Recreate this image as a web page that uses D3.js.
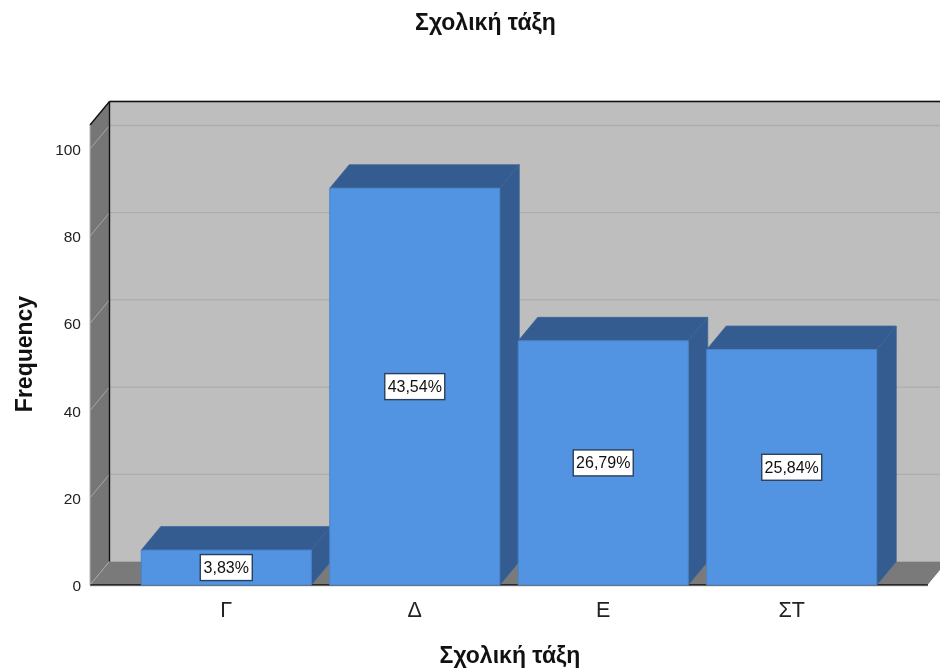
<!DOCTYPE html>
<html>
<head>
<meta charset="utf-8">
<script src="https://cdn.jsdelivr.net/npm/d3@7"></script>
<style>
html,body{margin:0;padding:0;background:#fff;overflow:hidden}
svg{display:block;filter:blur(0.45px)}
text{font-family:"Liberation Sans",Arial,sans-serif}
</style>
</head>
<body>
<svg id="chart" width="940" height="669"></svg>
<script>
const categories = ["Γ","Δ","Ε","ΣΤ"];
const frequencies = [8,91,56,54];
const percentLabels = ["3,83%","43,54%","26,79%","25,84%"];
const yTicks = [0,20,40,60,80,100];
const chartTitle = "Σχολική τάξη";
const xTitle = "Σχολική τάξη";
const yTitle = "Frequency";

const W = 940, H = 669;
const dx = 19.5, dy = -23.5;
const x = d3.scaleBand().domain(categories).range([90,928]).paddingInner(0.098).paddingOuter(0.272);
const y = d3.scaleLinear().domain([0,105.5]).range([585,125]);
const x0 = x.range()[0], x1 = x.range()[1], yb = y(0), yt = y(y.domain()[1]);
const svg = d3.select("#chart");
const poly = (pts,fill,stroke,sw) => svg.append("path")
  .attr("d","M"+pts.map(p=>p.join(",")).join("L")+"Z")
  .attr("fill",fill).attr("stroke",stroke||"none").attr("stroke-width",sw||0);
const line = (a,b,stroke,sw) => svg.append("line")
  .attr("x1",a[0]).attr("y1",a[1]).attr("x2",b[0]).attr("y2",b[1])
  .attr("stroke",stroke).attr("stroke-width",sw);

// walls and floor
poly([[x0+dx,yt+dy],[x1+dx,yt+dy],[x1+dx,yb+dy],[x0+dx,yb+dy]],"#bebebe");
poly([[x0,yt],[x0+dx,yt+dy],[x0+dx,yb+dy],[x0,yb]],"#767676");
poly([[x0,yb],[x0+dx,yb+dy],[x1+dx,yb+dy],[x1,yb]],"#7a7a7a");

// gridlines
yTicks.slice(1).concat([y.domain()[1]]).forEach(t=>{
  const p = y(t);
  line([x0+dx,p+dy],[x1+dx,p+dy],"#adadad",1.3);
  if(t<=100) line([x0,p],[x0+dx,p+dy],"#a6a6a6",1);
});
line([x0+dx,yb+dy],[x1+dx,yb+dy],"#a8a8a8",1.2);
line([x0,yb],[x0+dx,yb+dy],"#a6a6a6",1);

// frame
line([x0,yt],[x0+dx,yt+dy],"#111",1.4);
line([x0+dx,yt+dy],[x1+dx,yt+dy],"#111",1.4);
line([x0+dx,yt+dy],[x0+dx,yb+dy],"#111",1.4);
line([x0,yb],[x1,yb],"#111",1.4);
line([x0,yt],[x0,yb],"#b4b4b4",1);
line([x1,yb],[x1+dx,yb+dy],"#ffffff",1);

// bars
categories.forEach((c,i)=>{
  const l = x(c), r = l + x.bandwidth(), t = y(frequencies[i]);
  poly([[l,t],[l+dx,t+dy],[r+dx,t+dy],[r,t]],"#345c90","#3d6596",0.8);
  poly([[r,t],[r+dx,t+dy],[r+dx,yb+dy],[r,yb]],"#345c90","#3d6596",0.8);
  poly([[l,t],[r,t],[r,yb],[l,yb]],"#5294e2","#4a84cb",1);
});
line([x0,yb+1],[x1,yb+1],"#a0a0a0",0.8).attr("opacity",0.6);

// percent labels
categories.forEach((c,i)=>{
  const cx = x(c)+x.bandwidth()/2, cy = (y(frequencies[i])+yb)/2;
  const w = i===0 ? 52 : 60, h = 26;
  svg.append("rect").attr("x",cx-w/2).attr("y",cy-h/2).attr("width",w).attr("height",h)
    .attr("fill","#fff").attr("stroke","#2a3f5c").attr("stroke-width",1.4);
  svg.append("text").attr("x",cx).attr("y",cy+5.5).attr("text-anchor","middle")
    .attr("font-size",16).attr("fill","#111").text(percentLabels[i]);
});

// y axis labels
svg.append("g").selectAll("text").data(yTicks).join("text")
  .attr("x",81).attr("y",d=>y(d)+6).attr("text-anchor","end")
  .attr("font-size",15.5).attr("fill","#222").text(d=>d);

// x axis labels
svg.append("g").selectAll("text").data(categories).join("text")
  .attr("x",d=>x(d)+x.bandwidth()/2).attr("y",617).attr("text-anchor","middle")
  .attr("font-size",21.5).attr("fill","#222").text(d=>d);

// titles
svg.append("text").attr("x",485.5).attr("y",30).attr("text-anchor","middle")
  .attr("font-size",23).attr("font-weight","bold").attr("fill","#111").text(chartTitle);
svg.append("text").attr("x",510).attr("y",663).attr("text-anchor","middle")
  .attr("font-size",23).attr("font-weight","bold").attr("fill","#111").text(xTitle);
svg.append("text").attr("transform","translate(32,354) rotate(-90)").attr("text-anchor","middle")
  .attr("font-size",23).attr("font-weight","bold").attr("fill","#111").text(yTitle);
</script>
</body>
</html>
